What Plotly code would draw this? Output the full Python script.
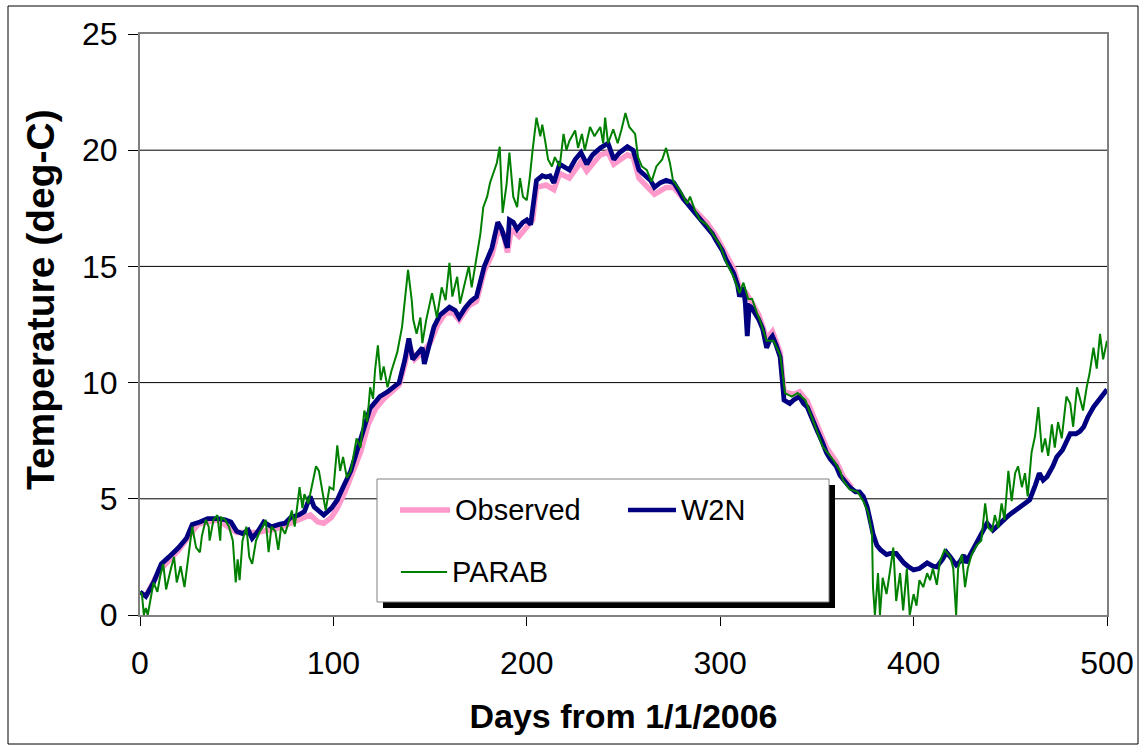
import plotly.graph_objects as go

# ---- data -------------------------------------------------------------
obs_day = [3, 10, 20, 30, 40, 50, 60, 70, 75, 80, 85, 88, 92, 95, 99, 102, 106, 110,
           114, 118, 122, 126, 130, 134, 137, 139, 142, 146, 150, 154, 158, 162, 165,
           170, 174, 178, 182, 185, 188, 190, 192, 196, 200, 203, 205, 210, 214, 217,
           222, 228, 231, 238, 242, 245, 252, 255, 258, 264, 266, 272, 276, 281, 286,
           293, 298, 303, 307, 310, 313, 316, 320, 324, 327, 331, 333, 338, 341, 345,
           350, 355, 360, 364, 368]
obs_temp = [0.8, 1.9, 2.8, 3.9, 4.1, 3.55, 3.55, 3.7, 3.85, 4.0, 4.15, 4.3, 4.0, 3.95,
            4.2, 4.6, 5.3, 6.2, 7.0, 8.2, 8.9, 9.3, 9.6, 9.9, 10.8, 11.6, 11.0, 11.3,
            11.7, 12.5, 13.0, 13.0, 12.7, 13.3, 13.5, 14.8, 15.5, 16.5, 16.4, 15.6,
            16.6, 16.3, 16.7, 17.0, 18.4, 18.5, 18.3, 19.0, 18.8, 19.5, 19.1, 19.8,
            19.9, 19.4, 19.8, 19.7, 18.8, 18.3, 18.1, 18.4, 18.4, 17.9, 17.5, 16.9,
            16.3, 15.5, 14.9, 14.1, 13.9, 13.5, 12.9, 11.9, 12.2, 11.3, 9.6, 9.5,
            9.6, 9.2, 8.2, 7.2, 6.6, 5.9, 5.5]

w2n_day = [0, 3, 7, 11, 15, 20, 24, 27, 31, 35, 40, 44, 47, 50, 53, 56, 58, 61, 64,
           68, 72, 75, 78, 82, 85, 88, 90, 93, 95, 99, 102, 105, 109, 112, 116, 119,
           122, 124, 128, 131, 134, 137, 139, 141, 144, 146, 147, 150, 152, 155, 158,
           160, 163, 165, 168, 171, 174, 176, 178, 180, 182, 185, 187, 190, 191, 193,
           195, 198, 200, 202, 204, 205, 208, 210, 212, 214, 217, 219, 222, 225, 228,
           231, 234, 238, 242, 245, 248, 252, 255, 258, 261, 264, 266, 269, 272, 276,
           279, 281, 284, 286, 290, 293, 296, 298, 301, 303, 305, 307, 309, 310, 312,
           313, 314, 315, 316, 318, 320, 322, 324, 326, 327, 329, 331, 332, 333, 336,
           338, 341, 343, 345, 347, 350, 353, 355, 357, 360, 362, 364, 367, 370, 372,
           374, 376, 378, 379, 381, 383, 386, 388, 391, 393, 395, 397, 400, 403, 405,
           407, 410, 412, 415, 417, 419, 422, 424, 426, 427, 430, 433, 436, 438, 441,
           444, 448, 451, 455, 458, 460, 463, 465, 467, 469, 472, 474, 477, 479, 481,
           484, 486, 488, 490, 493, 496, 498, 500]
w2n_temp = [1.0, 0.8, 1.4, 2.2, 2.5, 2.9, 3.3, 3.9, 4.0, 4.15, 4.15, 4.1, 4.0, 3.6,
            3.5, 3.65, 3.3, 3.6, 4.0, 3.8, 3.9, 3.95, 4.2, 4.3, 4.45, 5.1, 4.65, 4.4,
            4.3, 4.6, 4.95, 5.5, 6.2, 7.0, 8.0, 8.9, 9.2, 9.4, 9.6, 9.8, 10.0, 11.0,
            11.9, 11.0, 11.3, 11.5, 10.8, 11.8, 12.4, 12.9, 13.1, 13.25, 13.1, 12.8,
            13.2, 13.5, 13.7, 14.3, 15.0, 15.4, 15.8, 16.9, 16.6, 15.8, 17.0, 16.9,
            16.6, 16.9, 17.0, 16.8, 18.2, 18.7, 18.9, 18.85, 18.9, 18.6, 19.4, 19.3,
            19.15, 19.6, 19.9, 19.4, 19.8, 20.1, 20.3, 19.6, 19.9, 20.15, 20.0, 19.15,
            18.9, 18.7, 18.4, 18.6, 18.7, 18.6, 18.2, 17.9, 17.6, 17.4, 17.0, 16.7,
            16.4, 16.1, 15.7, 15.3, 15.0, 14.7, 14.2, 13.7, 14.1, 13.4, 12.0, 13.3,
            13.25, 13.0, 12.7, 12.3, 11.5, 11.9, 12.0, 11.6, 11.1, 10.2, 9.25, 9.1,
            9.25, 9.4, 9.1, 8.95, 8.6, 7.96, 7.4, 6.97, 6.7, 6.4, 6.0, 5.8, 5.5, 5.3,
            5.3, 5.1, 4.65, 3.9, 3.5, 3.0, 2.8, 2.6, 2.65, 2.65, 2.4, 2.24, 2.1, 1.94,
            2.0, 2.15, 2.24, 2.1, 2.07, 2.4, 2.7, 2.5, 2.15, 2.3, 2.58, 2.24, 2.7, 3.2,
            3.6, 3.95, 3.65, 3.9, 4.2, 4.4, 4.65, 4.8, 4.95, 5.6, 6.1, 5.8, 5.95, 6.4,
            6.8, 7.1, 7.4, 7.8, 7.8, 7.9, 8.1, 8.5, 8.95, 9.3, 9.5, 9.7]

parab_day = [0, 1, 2, 3, 4, 5, 5.5, 7, 9, 10.5, 12, 13.5, 16, 17.6, 19, 21, 23, 25, 26,
             27, 29, 31, 32, 34, 35.5, 36, 38, 40, 41.5, 42, 44, 46, 48, 49.5, 50.5,
             51.5, 53, 55, 56.5, 58, 60, 62, 63.5, 65, 66.5, 68, 70, 71.5, 73, 75,
             76.5, 78.5, 80, 82.5, 84, 85, 87, 89, 91, 92.5, 94, 96, 98, 100, 102,
             103.5, 105, 107, 109, 110.5, 112, 114, 116, 117.5, 119, 120.5, 121.5, 123,
             124.5, 126, 128, 130, 133, 135.5, 137, 138.6, 140.5, 141.3, 143, 145, 146,
             148, 151, 153.5, 156, 158, 160, 161.5, 164, 165.5, 168, 170, 171.5, 174,
             176, 177.5, 179.5, 181, 182.5, 184.5, 186, 187.5, 189.5, 191, 193, 195,
             196.5, 198, 200, 201.5, 203, 205, 207, 208, 209.5, 211, 213, 214.5, 217,
             219, 220.5, 222, 225, 226.5, 228.5, 230, 232.7, 235, 238, 239.5, 240.5,
             242, 244.7, 247, 249, 251, 253, 256, 257.5, 259.5, 262, 264.5, 267, 270,
             272, 274, 275.6, 279, 283, 284.4, 287, 289.5, 293, 296, 300, 303, 306.7,
             310, 312, 314.5, 316.5, 319, 320.5, 324, 327.5, 331, 333.5, 337, 340, 344,
             348, 353, 358.5, 362, 363.5, 367, 371, 374, 376.5, 378.5, 379, 380, 381.6,
             382.6, 384, 386, 388, 389.5, 391, 393, 394.6, 396.5, 398, 400, 401.5, 403,
             405, 407, 408.5, 410, 412, 413.6, 416, 419, 420.5, 422, 423, 425, 426.6,
             428, 430, 432.6, 435, 437, 438.6, 440.5, 442, 443.8, 445.5, 447, 449,
             450.7, 452.5, 454, 456, 457.6, 459, 461, 462.8, 464.5, 466.4, 468, 469.6,
             471.5, 473, 474.7, 476.6, 479, 481, 482.5, 484.5, 486, 487.6, 489.5, 491,
             493, 494.7, 496.4, 498, 500]
parab_temp = [1.0, 0.9, 0.0, 0.3, 0.0, 0.5, 0.8, 1.4, 1.0, 1.7, 2.2, 1.1, 2.0, 2.5, 1.4,
              2.1, 1.2, 2.5, 3.1, 3.8, 2.9, 2.7, 3.4, 4.1, 3.8, 3.2, 4.1, 4.3, 3.2, 4.2,
              4.1, 3.8, 3.2, 1.4, 2.4, 1.5, 3.2, 3.8, 2.5, 2.2, 3.2, 3.6, 3.8, 4.1, 2.7,
              3.8, 3.6, 2.8, 3.8, 3.5, 3.9, 4.5, 3.8, 5.5, 4.6, 5.2, 4.8, 5.6, 6.4, 6.2,
              5.5, 4.5, 5.5, 5.4, 7.3, 6.2, 6.8, 5.9, 6.2, 6.9, 7.6, 7.2, 8.8, 8.3, 9.8,
              9.3, 10.5, 11.6, 10.1, 10.7, 9.8, 10.5, 11.3, 12.4, 13.55, 14.85, 13.55,
              12.7, 12.1, 12.8, 11.7, 12.7, 13.85, 12.8, 14.1, 13.55, 15.15, 13.7, 14.55,
              13.4, 14.3, 15.0, 14.1, 15.4, 16.4, 17.55, 18.0, 18.6, 19.0, 19.45, 20.15,
              17.3, 18.5, 19.9, 18.0, 17.55, 18.8, 18.0, 17.85, 18.8, 20.0, 21.4, 20.6,
              21.1, 20.4, 19.6, 19.3, 19.7, 19.3, 20.7, 20.0, 20.4, 20.85, 20.1, 20.7,
              20.0, 21.0, 20.6, 21.0, 20.3, 21.4, 20.3, 20.9, 20.3, 20.9, 21.6, 21.0,
              20.7, 19.7, 19.3, 19.15, 18.65, 19.3, 19.6, 20.1, 19.45, 18.7, 18.3, 17.7,
              18.0, 17.4, 17.0, 16.8, 16.4, 15.9, 15.2, 14.6, 13.85, 14.3, 13.6, 13.6,
              13.0, 12.7, 11.8, 11.8, 11.2, 9.55, 9.4, 9.55, 9.25, 8.4, 7.25, 6.67, 6.2,
              5.8, 5.4, 5.3, 4.9, 4.4, 3.5, 1.2, 0.0, 1.8, 0.0, 1.6, 0.9, 2.0, 2.9, 0.6,
              1.8, 0.2, 2.0, 0.0, 0.9, 0.4, 1.5, 1.2, 1.8, 1.5, 2.0, 1.3, 2.3, 2.8, 2.5,
              2.0, 0.0, 2.0, 2.6, 1.2, 2.0, 2.6, 3.0, 3.2, 4.8, 3.75, 3.6, 4.3, 3.75,
              4.8, 4.1, 6.2, 4.9, 6.1, 6.4, 5.5, 6.1, 5.1, 7.0, 7.7, 8.95, 7.0, 7.6,
              6.85, 8.2, 7.2, 8.3, 7.6, 9.4, 9.1, 8.1, 9.8, 9.25, 8.8, 9.8, 10.4, 11.5,
              10.6, 12.1, 11.0, 11.8]

x_ticks = [0, 100, 200, 300, 400, 500]
y_ticks = [0, 5, 10, 15, 20, 25]

# ---- layout geometry (pixels) -----------------------------------------
W, H = 1140, 746
L, R, T, B = 140, 1107, 34, 615


def px(x):
    return (x - L) / (R - L)


def py(y):
    return (B - y) / (B - T)


FONT = "Liberation Sans, Arial, sans-serif"
PINK, NAVY, GREEN = "#FF99CC", "#000080", "#008000"

fig = go.Figure()
fig.add_trace(go.Scatter(x=obs_day, y=obs_temp, mode="lines", name="Observed",
                         line=dict(color=PINK, width=5.5)))
fig.add_trace(go.Scatter(x=w2n_day, y=w2n_temp, mode="lines", name="W2N",
                         line=dict(color=NAVY, width=4.8)))
fig.add_trace(go.Scatter(x=parab_day, y=parab_temp, mode="lines", name="PARAB",
                         line=dict(color=GREEN, width=2)))

fig.update_layout(
    width=W, height=H,
    margin=dict(l=L, r=W - R, t=T, b=H - B, autoexpand=False),
    paper_bgcolor="white", plot_bgcolor="white",
    showlegend=False,
    font=dict(family=FONT, color="black"),
)

fig.update_xaxes(
    range=[0, 500], tickvals=x_ticks, ticktext=[str(v) for v in x_ticks],
    ticks="outside", ticklen=9, tickcolor="black", tickwidth=1,
    ticklabelstandoff=10,
    showline=True, linecolor="#808080", linewidth=2, mirror=True,
    showgrid=False, zeroline=False,
    tickfont=dict(size=32, family=FONT),
    title=dict(text="Days from 1/1/2006", standoff=24,
               font=dict(size=34, family=FONT, weight="bold")),
)
fig.update_yaxes(
    range=[0, 25], tickvals=y_ticks, ticktext=[str(v) for v in y_ticks],
    ticks="outside", ticklen=10, tickcolor="black", tickwidth=1,
    ticklabelstandoff=4,
    showline=True, linecolor="#808080", linewidth=2, mirror=True,
    showgrid=False, zeroline=False,
    tickfont=dict(size=32, family=FONT),
)

# horizontal gridlines
shapes = []
for v in y_ticks[1:-1]:
    shapes.append(dict(type="line", xref="paper", yref="y", x0=0, x1=1, y0=v, y1=v,
                       line=dict(color="black", width=1), layer="below"))

# outer chart border
shapes.append(dict(type="rect", xref="paper", yref="paper",
                   x0=px(8), x1=px(1138), y0=py(744), y1=py(6),
                   line=dict(color="black", width=1), layer="above"))

# legend box with drop shadow
shapes.append(dict(type="rect", xref="paper", yref="paper",
                   x0=px(383), x1=px(835), y0=py(608), y1=py(485),
                   fillcolor="black", line=dict(width=0), layer="above"))
shapes.append(dict(type="rect", xref="paper", yref="paper",
                   x0=px(377), x1=px(829), y0=py(602), y1=py(479),
                   fillcolor="white", line=dict(color="#808080", width=1), layer="above"))

legend_items = [("Observed", PINK, 5.5, 400, 450, 510),
                ("W2N", NAVY, 4.5, 628, 676, 510),
                ("PARAB", GREEN, 2, 401, 447, 572)]
annotations = []
for name, col, w, xa, xb, yy in legend_items:
    shapes.append(dict(type="line", xref="paper", yref="paper",
                       x0=px(xa), x1=px(xb), y0=py(yy), y1=py(yy),
                       line=dict(color=col, width=w), layer="above"))
    annotations.append(dict(text=name, xref="paper", yref="paper",
                            x=px(xb + 3), y=py(yy), xanchor="left", yanchor="middle",
                            showarrow=False, font=dict(size=29, family=FONT, color="black")))

# y-axis title
annotations.append(dict(text="Temperature (deg-C)", xref="paper", yref="paper",
                        x=px(40), y=py(300), xanchor="center", yanchor="middle",
                        textangle=-90, showarrow=False,
                        font=dict(size=39, family=FONT, weight="bold", color="black")))

fig.update_layout(shapes=shapes, annotations=annotations)

fig.write_html("out.html")
